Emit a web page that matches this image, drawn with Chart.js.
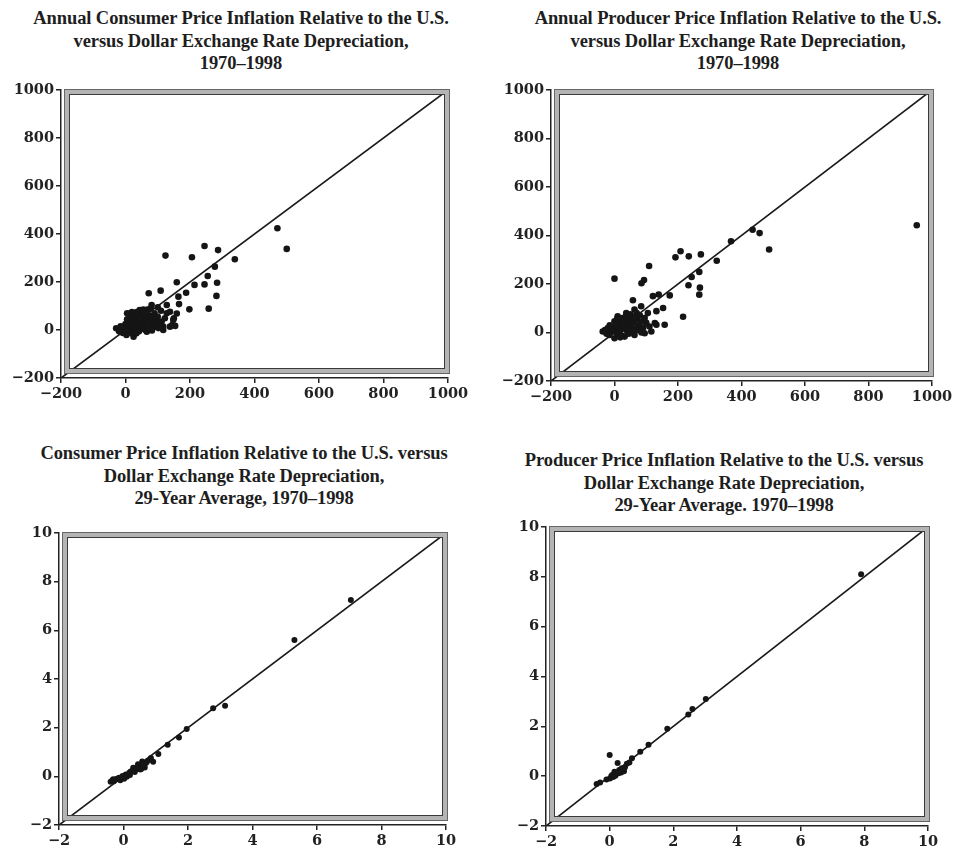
<!DOCTYPE html>
<html>
<head>
<meta charset="utf-8">
<script src="https://cdn.jsdelivr.net/npm/chart.js@4/dist/chart.umd.min.js"></script>
<style>
  html, body { margin: 0; padding: 0; background: #ffffff; }
  body { width: 958px; height: 860px; position: relative; overflow: hidden; }
  .ttl { position: absolute; width: 520px; text-align: center; font-family: "Liberation Serif", serif; font-weight: bold; font-size: 18.5px; line-height: 22.5px; color: #1e1e1e; white-space: nowrap; letter-spacing: -0.1px; }
  canvas { position: absolute; }
</style>
</head>
<body>
<div class="ttl" id="t1" style="left:-19px; top:7px;">Annual Consumer Price Inflation Relative to the U.S.<br>versus Dollar Exchange Rate Depreciation,<br>1970–1998</div>
<div class="ttl" id="t2" style="left:478px; top:7px;">Annual Producer Price Inflation Relative to the U.S.<br>versus Dollar Exchange Rate Depreciation,<br>1970–1998</div>
<div class="ttl" id="t3" style="left:-16px; top:442px;">Consumer Price Inflation Relative to the U.S. versus<br>Dollar Exchange Rate Depreciation,<br>29-Year Average, 1970–1998</div>
<div class="ttl" id="t4" style="left:464px; top:449px;">Producer Price Inflation Relative to the U.S. versus<br>Dollar Exchange Rate Depreciation,<br>29-Year Average. 1970–1998</div>

<canvas id="c1" width="480" height="332" style="left:0px; top:78px;"></canvas>
<canvas id="c2" width="468" height="335" style="left:490px; top:78px;"></canvas>
<canvas id="c3" width="480" height="337" style="left:0px; top:520px;"></canvas>
<canvas id="c4" width="468" height="343" style="left:490px; top:515px;"></canvas>

<script>
// ---- Tick values ----
const annualTicks = [-200, 0, 200, 400, 600, 800, 1000];
const averageTicks = [-2, 0, 2, 4, 6, 8, 10];

// ---- 45-degree reference lines ----
const annualLineX = [-200, 1000];
const annualLineY = [-200, 1000];
const averageLineX = [-2, 10];
const averageLineY = [-2, 10];

// ---- Panel 1: annual consumer price inflation (x) vs dollar depreciation (y) ----
const cpiAnnualX = [471, 500, 245, 287, 124, 206, 339, 277, 255, 159, 214, 245, 284, 282, 109, 72, 188, 164, 166, 198, 258, 128, 154, 117, 145, 150, 128, 112, 44, 13, 138, 159, 122, 148, 138, 117, -29, -13, 3, 34, 66, 91, 81,
  -5, 0, 5, 10, 15, 20, 25, 30, 35, 40, 45, 50, 55, 60, 65, 70, 75, 80, 85, 90, 95, 100, 105, 110, 0, 8, 18, 28, 38, 48, 58, 68, 78, 12, 22, 32, 42, 52, 62, 72, 82, 92, -15, -8, 25, 5, 35, 55, 100, -20, 15, 60, 88, 102, 70, 45, 20, 30, 5, 20];
const cpiAnnualY = [424, 338, 350, 333, 310, 303, 295, 264, 225, 199, 188, 190, 197, 142, 164, 153, 155, 139, 108, 86, 89, 104, 17, 14, 21, 49, 70, 35, 83, 69, 76, 69, 49, 42, 14, 0, 7, -7, -21, -14, -7, 14, 104,
  5, 0, 10, -5, 20, 5, 30, 15, 40, 20, 10, 35, 50, 25, 45, 15, 60, 30, 50, 70, 40, 55, 25, 80, 25, 35, 45, 55, 60, 68, 75, 85, 90, -10, -15, 0, -5, 5, 0, 10, -2, 28, 15, -12, -28, 45, 75, 85, 95, -5, 60, 60, 18, 8, 35, 50, 25, -10, 70, 75];

// ---- Panel 2: annual producer price inflation (x) vs dollar depreciation (y) ----
const ppiAnnualX = [952, 435, 457, 487, 367, 322, 208, 192, 234, 272, 109, 0, 93, 85, 243, 267, 233, 269, 267, 139, 121, 174, 58, 153, 132, 216, 132, 84, 63, 105, 37, 10, 0, 127, 158, 116, 95, -21, -37, -16, 0, 32, 63,
  -10, -5, 0, 5, 10, 15, 20, 25, 30, 35, 40, 45, 50, 55, 60, 65, 70, 75, 80, 85, 90, 95, 100, -25, 5, 15, 25, 35, 50, 70, 12, 22, 45, 55, 75, 85, 110, -15, 28, 42, 62, 8, 18, 48, -30];
const ppiAnnualY = [442, 424, 410, 342, 376, 296, 335, 310, 314, 322, 274, 222, 216, 203, 229, 250, 195, 185, 156, 157, 150, 153, 133, 101, 88, 65, 32, 108, 95, 80, 80, 67, 46, 39, 32, 4, -3, 18, 4, -10, -24, -17, -10,
  5, 15, 10, 0, 25, 5, 35, 15, 45, 20, 5, 50, 30, 60, 40, 15, 55, 30, 70, 45, 20, 60, 40, -5, 30, 50, 60, 65, 75, 80, -8, -12, -5, 8, 10, 0, 25, 30, 28, 35, 65, 55, -20, 18, 10];

// ---- Panel 3: 29-year average consumer price inflation vs depreciation ----
const cpiAverageX = [7.05, 5.3, 3.15, 2.78, 1.96, 1.72, 1.37, 1.08, 0.92, 0.58, 0.66, 0.28, 0.07, -0.14, -0.35, 0.5, 0.18, -0.03, -0.25, 0.76, 0.39, -0.3, 0.1, 0.45, 0.6, 0.3, 0.2, -0.2, 0.85, 0.55, 0.7, -0.4, -0.32, -0.1, 0.02, 0.12, 0.22, 0.35, 0.42, 0.52, 0.62];
const cpiAverageY = [7.25, 5.6, 2.9, 2.8, 1.95, 1.6, 1.3, 0.92, 0.6, 0.61, 0.36, 0.22, 0.08, -0.06, -0.17, 0.43, 0.15, 0.01, -0.13, 0.64, 0.29, -0.2, -0.02, 0.5, 0.48, 0.35, 0.05, -0.1, 0.75, 0.3, 0.55, -0.22, -0.12, -0.16, -0.1, 0.02, 0.2, 0.18, 0.38, 0.28, 0.5];

// ---- Panel 4: 29-year average producer price inflation vs depreciation ----
const ppiAverageX = [7.9, 3.02, 2.6, 2.47, 1.81, 1.22, 0.96, 0.0, 0.25, 0.54, 0.48, 0.36, 0.11, -0.1, -0.41, 0.01, -0.3, 0.2, 0.15, 0.05, 0.3, 0.62, 0.45, 0.38, 0.7, 0.08, 0.18, 0.28];
const ppiAverageY = [8.1, 3.1, 2.7, 2.47, 1.9, 1.26, 0.98, 0.85, 0.53, 0.5, 0.36, 0.15, -0.03, -0.13, -0.31, -0.09, -0.25, 0.1, 0.18, 0.0, 0.25, 0.55, 0.2, 0.32, 0.72, 0.05, 0.02, 0.12];

const zip = (xs, ys) => xs.map((x, i) => ({ x: x, y: ys[i] }));
const fmt = v => (v < 0 ? '\u2212' + Math.abs(v) : String(v));

const framePlugin = {
  id: 'frame',
  afterDatasetsDraw(chart) {
    const a = chart.chartArea;
    const ctx = chart.ctx;
    const l = a.left + 6, t = a.top + 2, r = a.right - 1, b = a.bottom - 7;
    ctx.save();
    ctx.strokeStyle = '#b4b4b4';
    ctx.lineWidth = 5;
    ctx.strokeRect(l, t, r - l, b - t);
    ctx.strokeStyle = '#666666';
    ctx.lineWidth = 1;
    ctx.strokeRect(l - 2.5, t - 2.5, r - l + 5, b - t + 5);
    ctx.strokeStyle = '#3a3a3a';
    ctx.strokeRect(l + 2.5, t + 2.5, r - l - 5, b - t - 5);
    ctx.restore();
  }
};

function makeChart(id, pts, lineX, lineY, ticks, yWidth, xHeight, pad, radius) {
  const tickFont = { family: 'DejaVu Serif', weight: 'bold', size: 14.5 };
  const axis = (isX) => ({
    type: 'linear',
    min: ticks[0],
    max: ticks[ticks.length - 1],
    afterBuildTicks: s => { s.ticks = ticks.map(v => ({ value: v })); },
    afterFit: s => { if (isX) { s.height = xHeight; } else { s.width = yWidth; } },
    grid: { display: true, drawOnChartArea: false, drawTicks: true, tickLength: 5, color: '#222222', lineWidth: 1.5 },
    border: { display: true, color: '#222222', width: 1.5 },
    ticks: { color: '#222222', font: tickFont, padding: isX ? 3 : 2, maxRotation: 0, autoSkip: false, callback: v => fmt(v) }
  });
  return new Chart(document.getElementById(id), {
    type: 'scatter',
    data: {
      datasets: [
        {
          type: 'line',
          data: zip(lineX, lineY),
          borderColor: '#1a1a1a',
          borderWidth: 1.7,
          pointRadius: 0,
          fill: false,
          order: 2
        },
        {
          data: pts,
          backgroundColor: '#151515',
          borderColor: '#151515',
          borderWidth: 0,
          pointRadius: radius,
          order: 1
        }
      ]
    },
    options: {
      responsive: false,
      animation: false,
      layout: { padding: pad },
      plugins: { legend: { display: false }, tooltip: { enabled: false }, title: { display: false } },
      scales: { x: axis(true), y: axis(false) }
    },
    plugins: [framePlugin]
  });
}

makeChart('c1', zip(cpiAnnualX, cpiAnnualY), annualLineX, annualLineY, annualTicks, 61, 32, { top: 12, left: 0, right: 32, bottom: 0 }, 3.3);
makeChart('c2', zip(ppiAnnualX, ppiAnnualY), annualLineX, annualLineY, annualTicks, 61, 32, { top: 12, left: 0, right: 26, bottom: 0 }, 3.3);
makeChart('c3', zip(cpiAverageX, cpiAverageY), averageLineX, averageLineY, averageTicks, 59, 32, { top: 13, left: 0, right: 34, bottom: 0 }, 3.0);
makeChart('c4', zip(ppiAverageX, ppiAverageY), averageLineX, averageLineY, averageTicks, 56, 32, { top: 12, left: 0, right: 30, bottom: 0 }, 3.0);
</script>
</body>
</html>
